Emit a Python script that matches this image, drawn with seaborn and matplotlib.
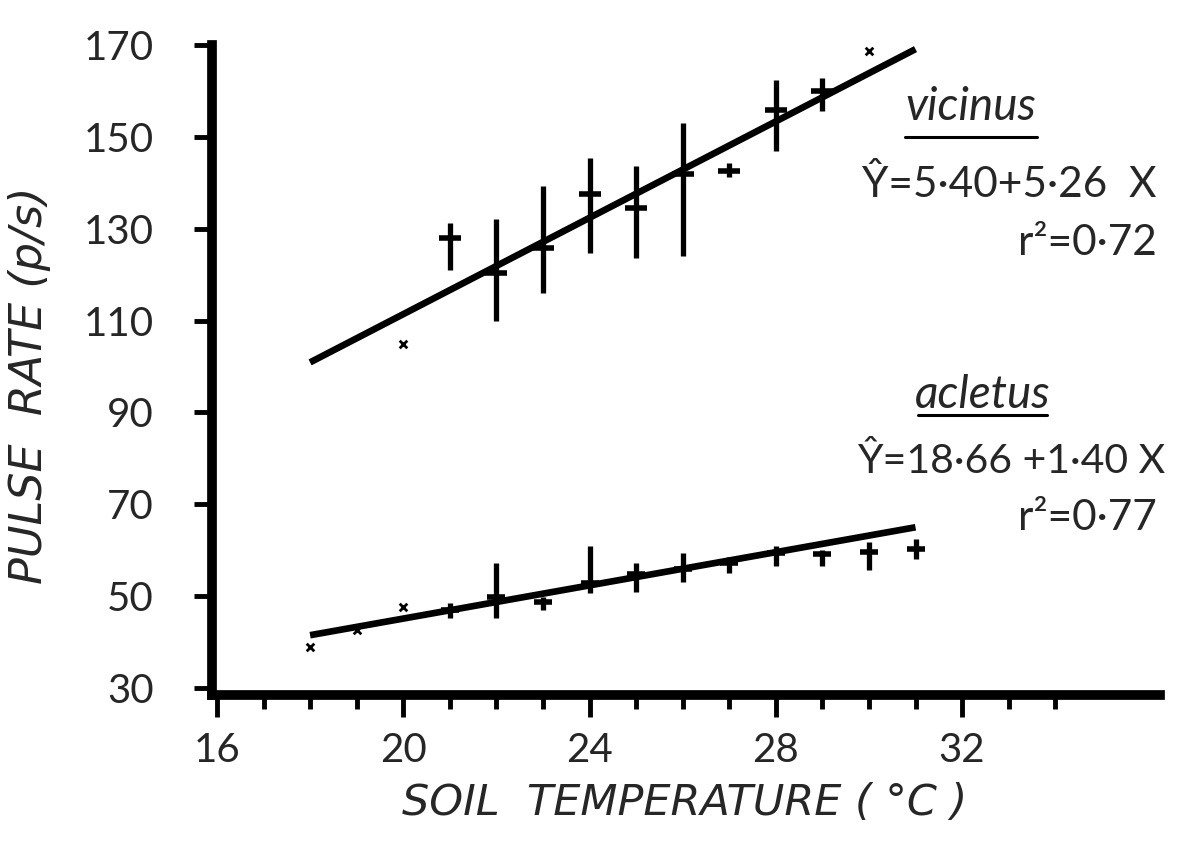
import numpy as np
import pandas as pd
import matplotlib
matplotlib.use("Agg")
import matplotlib.pyplot as plt
import seaborn as sns

# ---------------- data ----------------
vic_x    = [21, 22, 23, 24, 25, 26, 27, 28, 29]
vic_mean = [128.0, 120.4, 125.9, 137.6, 134.6, 142.0, 142.6, 155.9, 160.0]
vic_lo   = [121.0, 110.0, 115.9, 124.8, 123.7, 124.1, 141.3, 147.0, 155.7]
vic_hi   = [131.2, 132.2, 139.3, 145.4, 143.7, 153.0, 144.3, 162.4, 162.8]
vic_single_x = [20, 30]
vic_single_y = [105.0, 168.7]

ac_x    = [21, 22, 23, 24, 25, 26, 27, 28, 29, 30, 31]
ac_mean = [47.0, 49.8, 48.7, 52.8, 54.8, 56.0, 57.2, 59.3, 59.1, 59.6, 60.2]
ac_lo   = [45.2, 45.2, 47.0, 50.7, 50.9, 53.0, 55.0, 56.5, 56.5, 55.7, 58.0]
ac_hi   = [48.5, 57.2, 49.8, 60.9, 57.2, 59.3, 58.5, 60.9, 60.0, 61.7, 62.4]
ac_single_x = [18, 19, 20]
ac_single_y = [38.9, 42.6, 47.6]

line_x   = [18, 31]
vic_line = [100.9, 169.1]
ac_line  = [41.5, 65.0]

x_major = [16, 20, 24, 28, 32]
x_minor = list(range(16, 35))
y_ticks = [30, 50, 70, 90, 110, 130, 150, 170]

vic_eq = "Ŷ=5·40+5·26  X"
vic_r2 = "r²=0·72"
ac_eq = "Ŷ=18·66 +1·40 X"
ac_r2 = "r²=0·77"

# ---------------- style ----------------
sns.set_theme(style="ticks")
plt.rcParams['font.family'] = ['Lato', 'DejaVu Sans']

fig = plt.figure(figsize=(11.82, 8.44), dpi=100)
W, H = 1182, 844
ax = fig.add_axes([212.3 / W, 149 / H, 947.7 / W, 650 / H])

k = "black"
# regression lines
sns.lineplot(x=line_x, y=vic_line, ax=ax, color=k, linewidth=4.8, solid_capstyle="butt")
sns.lineplot(x=line_x, y=ac_line, ax=ax, color=k, linewidth=4.8, solid_capstyle="butt")

# ranges
ax.vlines(vic_x, vic_lo, vic_hi, color=k, linewidth=3.8)
ax.vlines(ac_x, ac_lo, ac_hi, color=k, linewidth=3.8)

# means
sns.scatterplot(x=vic_x, y=vic_mean, ax=ax, marker="_", s=240, color=k, linewidth=4)
sns.scatterplot(x=ac_x, y=ac_mean, ax=ax, marker="_", s=170, color=k, linewidth=4)

# single observations
sns.scatterplot(x=vic_single_x, y=vic_single_y, ax=ax, marker="x", s=30, color=k, linewidth=2)
sns.scatterplot(x=ac_single_x, y=ac_single_y, ax=ax, marker="x", s=30, color=k, linewidth=2)

ax.set_xlim(15.9, 36.25)
ax.set_ylim(28.48, 170)

for s in ["top", "right"]:
    ax.spines[s].set_visible(False)
for s in ["left", "bottom"]:
    ax.spines[s].set_linewidth(7)
    ax.spines[s].set_color(k)

ax.set_xticks(x_major)
ax.set_xticks(x_minor, minor=True)
ax.set_yticks(y_ticks)
ax.set_xticklabels([str(v) for v in x_major])
ax.set_yticklabels([str(v) for v in y_ticks])
ax.tick_params(axis="y", length=13, width=3.5, pad=29, labelsize=29, color=k, direction="out")
ax.tick_params(axis="x", which="major", length=16, width=3.5, pad=11, labelsize=29, color=k)
ax.tick_params(axis="x", which="minor", length=10, width=3.5, color=k)

ax.set_xlabel("")
ax.set_ylabel("")
fig.text(685 / W, 1 - 815 / H, "SOIL  TEMPERATURE ( °C )", ha="center", va="baseline",
         fontsize=31, style="italic", family=["DejaVu Sans"])
fig.text(30 / W, 1 - 385 / H, "PULSE  RATE (p/s)", ha="center", va="center",
         rotation=90, fontsize=32, style="italic", family=["DejaVu Sans"])

# annotations (data coordinates)
ax.text(32.19, 153.7, "vicinus", ha="center", va="baseline", fontsize=33, style="italic", clip_on=False)
ax.plot([30.78, 33.61], [150.0, 150.0], color=k, linewidth=2.2, clip_on=False)
ax.text(29.85, 136.9, vic_eq, ha="left", va="baseline", fontsize=30.5, clip_on=False)
ax.text(33.2, 124.3, vic_r2, ha="left", va="baseline", fontsize=30.5, clip_on=False)

ax.text(32.44, 91.0, "acletus", ha="center", va="baseline", fontsize=33, style="italic", clip_on=False)
ax.plot([31.06, 33.83], [89.4, 89.4], color=k, linewidth=2.2, clip_on=False)
ax.text(29.75, 76.8, ac_eq, ha="left", va="baseline", fontsize=29.5, clip_on=False)
ax.text(33.2, 64.4, ac_r2, ha="left", va="baseline", fontsize=30.5, clip_on=False)

fig.savefig("out.png", dpi=100, facecolor="white")
